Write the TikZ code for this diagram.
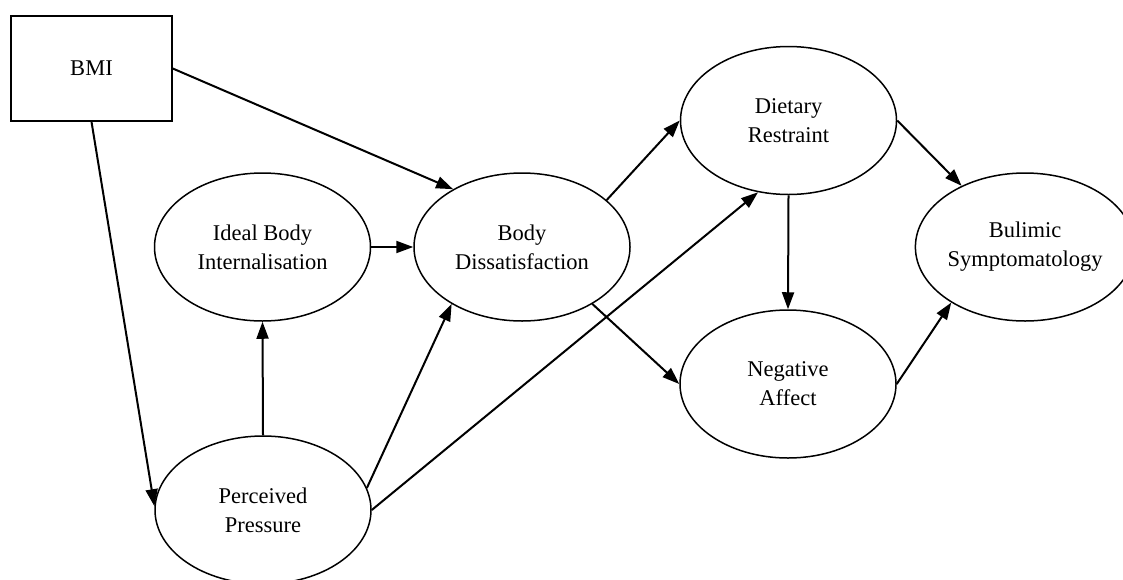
\documentclass[tikz,border=0pt]{standalone}
\usepackage{fontspec}
\setmainfont{Liberation Serif}
\usetikzlibrary{shapes.geometric,arrows.meta}
\begin{document}
\begin{tikzpicture}[x=1pt,y=-1pt,
  every node/.style={font=\fontsize{22.5}{29}\selectfont, align=center, inner sep=0pt},
  varbox/.style={draw, line width=1.5pt, rectangle, minimum width=161pt, minimum height=105pt},
  latent/.style={draw, line width=1.5pt, ellipse, minimum width=216pt, minimum height=148pt},
  path/.style={line width=2pt, -{Triangle[length=17pt,width=12pt]}}]
  \clip (0,0) rectangle (1123,579);
  \fill[white] (0,0) rectangle (1123,579);

  % variables
  \node[varbox] (bmi) at (91.5,68.5) {BMI};
  \node[latent] (ideal) at (262.5,247) {Ideal Body\\Internalisation};
  \node[latent] (bd) at (522,247) {Body\\Dissatisfaction};
  \node[latent] (dr) at (788.5,120.5) {Dietary\\Restraint};
  \node[latent] (na) at (788,384) {Negative\\Affect};
  \node[latent] (bs) at (1025,247) {Bulimic\\Symptomatology};
  \node[latent] (pp) at (263,510) {Perceived\\Pressure};

  % paths
  \draw[path] (bmi.east) -- (bd.140);
  \draw[path] (bmi.south) -- (pp.178);
  \draw[path] (ideal.east) -- (bd.west);
  \draw[path] (pp.north) -- (ideal.south);
  \draw[path] (pp.12) -- (bd.219);
  \draw[path] (pp.east) -- (dr.247);
  \draw[path] (bd.29) -- (dr.west);
  \draw[path] (bd.-39) -- (na.west);
  \draw[path] (dr.south) -- (na.north);
  \draw[path] (dr.east) -- (bs.136);
  \draw[path] (na.east) -- (bs.217);
\end{tikzpicture}
\end{document}
